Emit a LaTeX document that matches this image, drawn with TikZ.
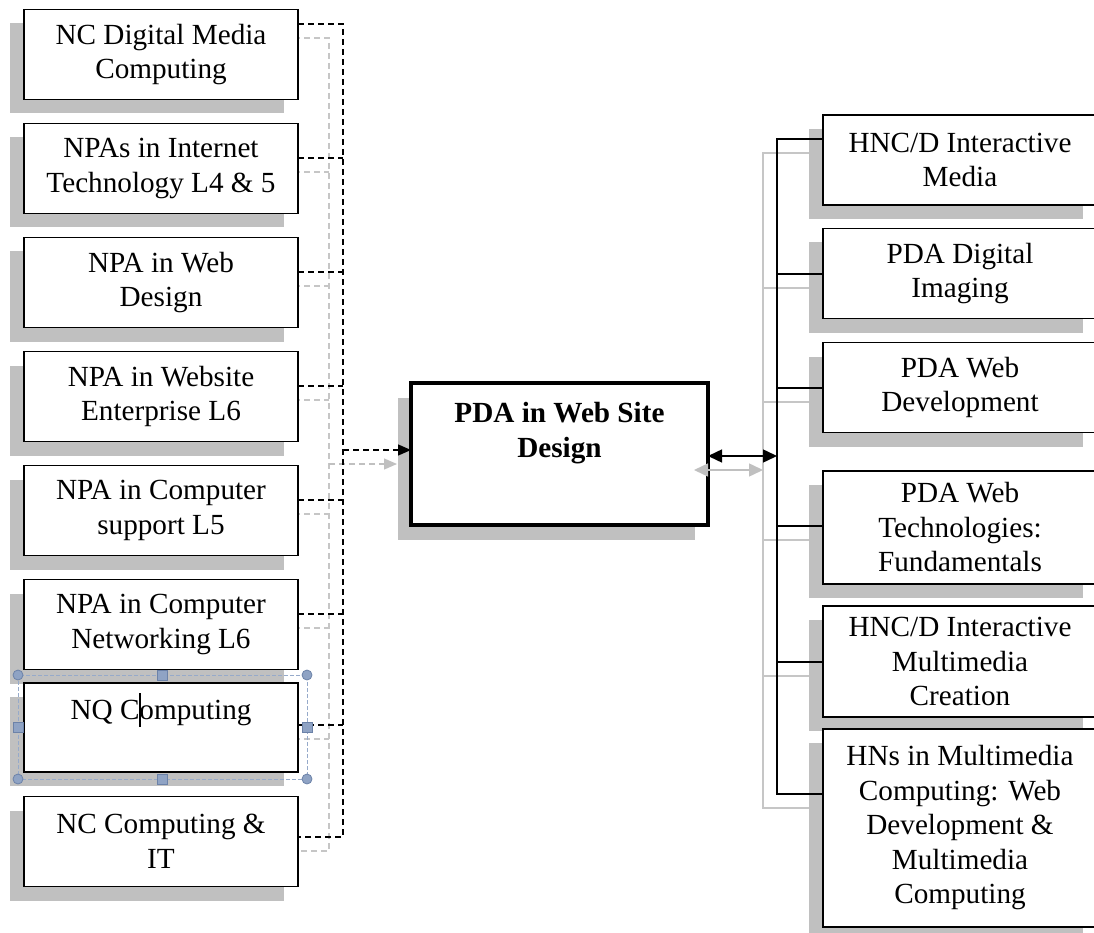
\documentclass[tikz,border=0pt]{standalone}
\usepackage{fontspec}
\setmainfont{Liberation Serif}
\usetikzlibrary{arrows.meta}
\pgfdeclarelayer{bg}
\pgfsetlayers{bg,main}
\definecolor{shadowgray}{RGB}{192,192,192}
\definecolor{shadowline}{RGB}{198,198,198}
\definecolor{selframe}{RGB}{150,170,202}
\definecolor{selfill}{RGB}{143,163,196}
\definecolor{seldraw}{RGB}{108,130,168}
\newcommand\fs{\fontsize{29.2}{34.5}\selectfont}
\newcommand\boxshadow[1]{\fill[shadowgray] ([shift={(-14,14)}]#1.north west) rectangle ([shift={(-14,14)}]#1.south east);}
\newcommand\leftnet{%
  (l1.east|-0,24) -| (LB) -- (l8.east|-0,837)
  (l2.east|-0,158) -- (LT|-0,158)
  (l3.east|-0,272) -- (LT|-0,272)
  (l4.east|-0,386) -- (LT|-0,386)
  (l5.east|-0,500) -- (LT|-0,500)
  (l6.east|-0,614) -- (LT|-0,614)
  (l7.east|-0,725) -- (LT|-0,725)}
\newcommand\rightnet{%
  (r1.west|-0,139) -| (RB) -- (r6.west|-0,794)
  (r2.west|-0,274) -- (RT|-0,274)
  (r3.west|-0,388) -- (RT|-0,388)
  (r4.west|-0,526) -- (RT|-0,526)
  (r5.west|-0,662) -- (RT|-0,662)}
\begin{document}
\begin{tikzpicture}[x=1pt,y=-1pt,
  qbox/.style={draw=black, line width=1.4pt, fill=white, rectangle,
    minimum width=274pt, minimum height=90pt, inner sep=0pt, outer sep=0pt,
    align=center, font=\fs},
  ldash/.style={line width=1.3pt, dash pattern=on 6pt off 4pt},
  rline/.style={line width=1.3pt},
  tip/.style={-{Triangle[length=13pt,width=11pt]}},
  dtip/.style={{Triangle[length=14pt,width=13pt]}-{Triangle[length=14pt,width=13pt]}},
  shadowcopy/.style={draw=shadowline, transform canvas={shift={(-14pt,-14pt)}}},
  handle/.style={fill=selfill, draw=seldraw, line width=0.8pt}]
\useasboundingbox (0,0) rectangle (1094,933);
\clip (0,0) rectangle (1094,933);

% left boxes
\node[qbox] (l1) at (161,54.5) {NC Digital Media\\Computing};
\node[qbox] (l2) at (161,168.5) {NPAs in Internet\\Technology L4 \& 5};
\node[qbox] (l3) at (161,282.5) {NPA in Web\\Design};
\node[qbox] (l4) at (161,396.5) {NPA in Website\\Enterprise L6};
\node[qbox] (l5) at (161,510.5) {NPA in Computer\\support L5};
\node[qbox] (l6) at (161,624.5) {NPA in Computer\\Networking L6};
\node[qbox, minimum height=89pt] (l7) at (161,727.5) {NQ Computing\\\mbox{}};
\node[qbox] (l8) at (161,841.5) {NC Computing \&\\IT};

% centre box
\node[qbox, line width=3.5pt, minimum width=297pt, minimum height=142pt] (c) at (559.5,454) {};
\node[font=\bfseries\fs, align=center, anchor=north, inner sep=0pt] (ct) at ([yshift=-19.3pt]c.north) {PDA in Web Site\\Design};

% right boxes
\node[qbox] (r1) at (960,160) {HNC/D Interactive\\Media};
\node[qbox] (r2) at (960,273.5) {PDA Digital\\Imaging};
\node[qbox] (r3) at (960,387.5) {PDA Web\\Development};
\node[qbox, minimum height=113pt] (r4) at (960,527.5) {PDA Web\\Technologies:\\Fundamentals};
\node[qbox, minimum height=111pt] (r5) at (960,661.5) {HNC/D Interactive\\Multimedia\\Creation};
\node[qbox, minimum height=198pt] (r6) at (960,828) {HNs in Multimedia\\Computing: Web\\Development \&\\Multimedia\\Computing};

% trunk coordinates
\coordinate (LT) at (343,24);
\coordinate (LB) at (343,837);
\coordinate (RT) at (777,139);
\coordinate (RB) at (777,794);

% shadows
\begin{pgfonlayer}{bg}
  \foreach \b in {l1,l2,l3,l4,l5,l6,l7,l8,r1,r2,r3,r4,r5,r6} {\boxshadow{\b}}
  \fill[shadowgray] ([shift={(-13,15)}]c.north west) rectangle ([shift={(-13,15)}]c.south east);
  \draw[ldash, shadowcopy] \leftnet;
  \draw[ldash, shadowcopy, tip, shadowgray] (LT|-0,450) -- (c.west|-0,450);
  \draw[rline, shadowcopy] \rightnet;
\end{pgfonlayer}
\draw[rline, line width=1.5pt, shadowcopy, dtip, shadowgray] (c.east|-0,456) -- (RT|-0,456);

% connectors
\draw[ldash] \leftnet;
\draw[ldash, tip] (LT|-0,450) -- (c.west|-0,450);
\draw[rline] \rightnet;
\draw[rline, line width=1.5pt, dtip] (c.east|-0,456) -- (RT|-0,456);

% selection frame round NQ Computing
\coordinate (s1) at (18,675);
\coordinate (s2) at (307,779);
\draw[selframe, line width=1pt, dash pattern=on 4pt off 2pt] (s1) rectangle (s2);
\foreach \p in {(18,675),(307,675),(18,779),(307,779)} {\filldraw[handle] \p circle[radius=5];}
\foreach \p in {(162,675),(162,779),(18,727),(307,727)} {\filldraw[handle] \p ++(-5,-5) rectangle ++(10,10);}
% text cursor
\draw[line width=2.5pt] (140,693) -- (140,727);
\end{tikzpicture}
\end{document}
